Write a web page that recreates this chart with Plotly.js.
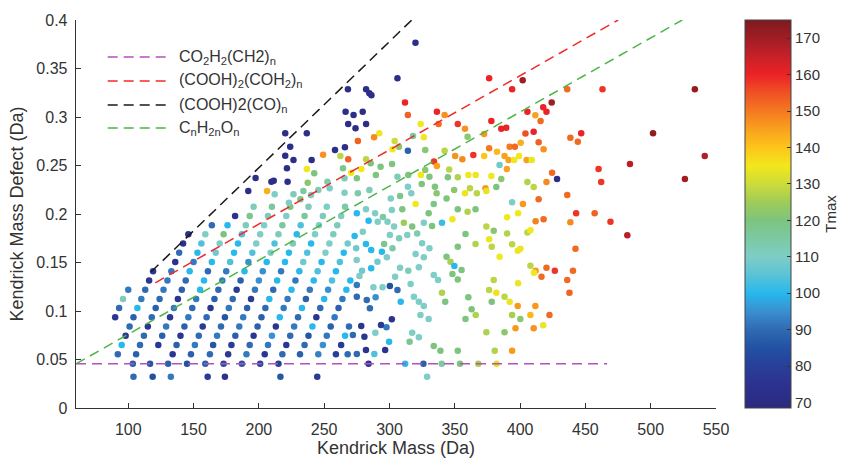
<!DOCTYPE html>
<html><head><meta charset="utf-8">
<script src="https://cdn.plot.ly/plotly-3.0.1.min.js"></script>
<style>html,body{margin:0;padding:0;background:#fff}#chart{width:851px;height:458px}</style>
</head><body><div id="chart"></div>
<script>
// ---------- dense lattice (rows of constant Kendrick mass defect) ----------
const rowKMD = [0.0323, 0.0455, 0.0555, 0.065, 0.0745, 0.084, 0.0935, 0.103, 0.1125, 0.122, 0.1315, 0.141, 0.1505, 0.16, 0.1695, 0.179, 0.1885, 0.198, 0.2075];
const rowKM = [
  [104, 118.7, 132.6, 160.8, 174, 216.5, 244.7, 328.8],
  [103.5, 116.7, 130.5, 145, 159, 173, 187, 201, 215, 284, 312, 326, 340, 354, 368, 382],
  [92, 106, 134, 148, 162.5, 176.5, 190.5, 204.5, 218, 231.5, 245.5, 259, 268],
  [95, 109, 123, 137, 151, 165, 179, 193, 207, 221, 235, 249, 263],
  [98, 112, 126, 140, 154, 168, 182, 196, 210, 224, 238, 252, 266],
  [101, 115, 129, 143, 157, 171, 185, 199, 213, 227, 241, 255, 269],
  [90, 104, 118, 132, 146, 160, 174, 188, 202, 216, 230, 244, 258],
  [93, 107, 121, 135, 149, 163, 177, 191, 205, 219, 233, 247, 261],
  [96, 110, 124, 138, 152, 166, 180, 194, 208, 222, 236, 250, 264],
  [100, 113, 127, 141, 155, 169, 183, 197, 211, 225, 239, 253, 267],
  [116, 130, 144, 158, 172, 186, 200, 214, 228, 242, 256, 270],
  [119, 133, 147, 161, 175, 189, 203, 217, 231, 245, 259],
  [136, 150, 164, 178, 192, 206, 220, 234, 248, 262],
  [139, 153, 167, 181, 195, 209, 223, 237, 251, 265],
  [142, 156, 170, 184, 198, 212, 226, 240, 254, 268],
  [146, 159, 173, 187, 201, 215, 229, 243, 257],
  [164, 176, 190, 204, 218, 232, 246, 260],
  [181.8, 193, 207, 221, 235, 249, 263],
  [196, 210, 224, 238, 252, 266]
];
const rowT = [
  [90, 85, 92, 78, 75, 86, 78, 110],
  [88, 86, 88, 85, 88, 84, 86, 82, 80, 76, 100, 88, 115, 120, 126, 133],
  [90, 88, 76, 88, 90, 78, 92, 76, 90, 88, 93, 80, 90],
  [100, 90, 76, 88, 92, 86, 78, 90, 92, 76, 90, 95, 78],
  [76, 90, 88, 76, 90, 92, 88, 76, 95, 90, 86, 92, 100],
  [90, 76, 92, 88, 78, 90, 92, 88, 76, 92, 100, 88, 90],
  [76, 88, 90, 76, 92, 90, 86, 92, 88, 100, 90, 76, 92],
  [90, 100, 88, 92, 90, 76, 92, 88, 90, 92, 100, 90, 88],
  [112, 92, 90, 76, 92, 88, 90, 78, 100, 92, 88, 100, 92],
  [92, 90, 92, 88, 100, 90, 78, 92, 90, 100, 92, 95, 100],
  [76, 92, 90, 100, 92, 88, 95, 100, 92, 100, 104, 100],
  [76, 92, 100, 90, 92, 100, 95, 92, 100, 104, 100],
  [74, 92, 100, 104, 95, 100, 100, 108, 100, 104],
  [90, 100, 108, 100, 104, 110, 100, 104, 110, 100],
  [74, 104, 110, 100, 110, 104, 112, 100, 110, 108],
  [74, 110, 120, 104, 110, 112, 100, 110, 112],
  [90, 100, 112, 110, 116, 104, 110, 112],
  [74, 118, 112, 110, 116, 112, 110],
  [112, 116, 120, 112, 110, 114]
];

// ---------- teal / green middle region ----------
const midKM = [320.0,333.9,275.0,282.0,289.0,295.0,301.8,309.8,311.0,330.0,352.3,359.8,365.9,348.2,284.0,291.0,298.5,303.5,317.4,326.3,332.6,340.2,358.2,365.9,273.3,279.6,300.3,307.4,313.6,321.2,282.0,295.9,302.3,325.0,330.6,274.5,286.0,294.2,298.0,274.9,290.8,320.0,326.3,343.7,346.7,352.3,349.7,348.2,355.2,352.3,308.1,314.4,322.5,333.9,337.2,340.2,342.7,360.4,362.9,366.0,358.2,279.0,286.0,277.0,304.3,275.0,287.7,294.7,300.3,306.1,316.2,308.6,318.7,322.5,326.3,275.0,282.6,289.4,285.0,323.7,330.0,301.8,297.7,293.5,278.4,289.2,272.0,280.8,299.7,317.4,322.5,333.9,339.0,352.3,315.4,275.0,282.0,288.4,296.7];
const midKMD = [0.2103,0.2103,0.2007,0.2048,0.2007,0.197,0.2041,0.2048,0.191,0.2007,0.2048,0.2024,0.2048,0.1945,0.193,0.192,0.192,0.187,0.187,0.191,0.1876,0.191,0.1794,0.169,0.1773,0.1818,0.1784,0.175,0.1784,0.18,0.169,0.169,0.1646,0.1698,0.1646,0.1646,0.163,0.1612,0.1553,0.1526,0.1509,0.1588,0.1553,0.156,0.1509,0.1663,0.1464,0.1381,0.1423,0.1326,0.1447,0.1416,0.145,0.1371,0.132,0.1189,0.1096,0.1141,0.1017,0.0959,0.0918,0.1416,0.144,0.1361,0.1354,0.1268,0.1244,0.1244,0.1258,0.1216,0.1278,0.1096,0.1148,0.1096,0.1052,0.1148,0.1113,0.1141,0.1028,0.0959,0.0918,0.0914,0.0832,0.0856,0.0845,0.0777,0.0753,0.0735,0.0684,0.0777,0.0729,0.0639,0.0591,0.0591,0.0684,0.0557,0.0598,0.0557,0.0598];
const midT = [135,118,100,110,110,115,110,120,125,120,120,127,120,135,100,110,110,110,120,110,120,102,120,127,100,110,110,112,110,113,100,118,114,110,110,108,100,100,110,110,108,110,110,120,126,120,100,120,120,120,110,112,110,110,110,127,120,120,120,127,120,108,100,110,110,92,110,110,85,90,110,100,110,110,110,90,90,95,90,110,110,75,92,78,76,110,90,76,100,110,110,120,120,120,118,90,75,104,75];

// ---------- upper band (between the red and black lines) ----------
const upKM = [319.9,306.1,268.2,282.1,284.6,286.2,311.9,266.4,272.5,279.5,314.1,336.3,342.2,268.4,274.0,282.1,323.9,337.6,352.3,357.8,292.2,288.2,318.0,326.3,359.8,372.5,275.8,304.0,307.3,302.3,258.3,265.9,314.1,327.4,342.2,350.3,355.8,364.2,372.5,262.4,268.4,282.1,249.2,334.1,336.3,345.7,327.4,293.2,302.0,285.6,264.4,278.4,270.7,252.5,265.6,275.0,289.6,306.1,314.4,324.0,330.6,344.7,352.3,360.4,366.0,254.2,265.6,275.8,284.6,301.0,308.1,314.1,316.7,324.7,334.8,336.1,343.7,349.5,357.8,361.6,366.9,373.5,220.2,224.0,220.2,226.5,222.0,236.7,240.4,236.7,242.4,221.5,197.5,209.6,211.4,237.4,191.9,206.3,212.1,226.5,234.1,239.9,245.5,231.8,223.0];
const upKMD = [0.3766,0.3399,0.3285,0.3285,0.3244,0.3223,0.315,0.3055,0.302,0.3055,0.302,0.3055,0.302,0.2928,0.2883,0.2928,0.2928,0.2928,0.2928,0.288,0.2832,0.279,0.2804,0.279,0.2797,0.2825,0.2753,0.2753,0.2694,0.2667,0.266,0.2687,0.2653,0.266,0.2653,0.2598,0.2564,0.2608,0.2598,0.2598,0.2564,0.2564,0.261,0.254,0.2495,0.246,0.2454,0.2488,0.2515,0.2522,0.2471,0.2464,0.2426,0.2333,0.2368,0.2368,0.2402,0.2385,0.2402,0.2402,0.2385,0.2378,0.2378,0.2402,0.2402,0.2265,0.222,0.2213,0.2247,0.2161,0.2186,0.2282,0.2213,0.2309,0.2282,0.2213,0.2161,0.2247,0.2213,0.2265,0.2213,0.2265,0.2832,0.2694,0.26,0.2557,0.2333,0.2832,0.2557,0.2464,0.2419,0.2471,0.237,0.2333,0.2344,0.2323,0.2237,0.2237,0.2203,0.2203,0.2237,0.2196,0.2247,0.2151,0.2117];
const upT = [72,72,72,72,72,72,160,72,72,72,153,160,147,72,72,72,135,152,158,147,135,148,115,135,122,146,153,130,122,135,72,72,88,122,128,147,148,158,140,128,153,128,147,158,145,128,122,120,120,120,118,135,135,113,112,120,120,112,120,135,120,120,127,135,134,110,110,114,112,110,118,110,110,120,120,122,120,122,134,128,128,146,72,72,72,72,72,72,72,135,120,72,72,72,72,122,72,143,110,112,115,110,112,118,110];

// ---------- high-mass (yellow / orange / red) region ----------
const hiKM = [376.3,402.0,393.9,436.1,463.1,533.8,424.2,417.7,420.2,405.6,411.7,415.7,378.0,385.6,389.4,404.1,410.4,438.5,446.8,444.2,501.8,414.2,376.3,392.0,396.0,400.5,382.3,388.1,418.0,541.4,391.2,395.5,399.2,405.0,408.9,384.3,389.9,378.0,385.6,424.5,428.3,460.1,484.1,462.1,526.2,420.2,405.6,410.4,381.8,374.2,436.1,414.2,393.9,402.2,398.5,390.1,442.9,457.1,469.2,438.5,418.0,411.9,482.1,374.2,379.8,390.1,405.6,407.9,376.3,378.3,393.9,398.2,400.2,384.3,442.4,407.9,411.9,410.6,420.2,426.6,416.4,440.5,436.1,437.8,379.8,398.5,376.3,381.8,388.1,392.0,378.3,398.2,411.7,393.9,400.2,407.9,422.5,417.7,396.5,410.4,374.2,388.1,380.6,393.9];
const hiKMD = [0.340,0.338,0.3285,0.3285,0.3285,0.3285,0.315,0.310,0.3055,0.3055,0.3017,0.296,0.296,0.288,0.289,0.283,0.2849,0.2787,0.2832,0.2746,0.2832,0.274,0.2677,0.2694,0.2694,0.2735,0.2643,0.2598,0.2667,0.2598,0.2557,0.2557,0.2598,0.2557,0.2557,0.2505,0.2464,0.2392,0.236,0.2426,0.236,0.2464,0.2515,0.233,0.236,0.233,0.233,0.2278,0.2278,0.2237,0.2196,0.2151,0.2120,0.2103,0.2007,0.1966,0.2007,0.2007,0.1921,0.1914,0.1945,0.1924,0.1780,0.187,0.1828,0.18,0.181,0.1832,0.1739,0.1663,0.1687,0.1622,0.1643,0.156,0.1643,0.1467,0.1416,0.1395,0.1447,0.1416,0.1354,0.1416,0.1320,0.1189,0.132,0.1285,0.1216,0.1189,0.1148,0.1096,0.1096,0.1052,0.1052,0.0959,0.0918,0.0959,0.0959,0.0852,0.0821,0.0821,0.078,0.078,0.0591,0.0591];
const hiT = [160,170,160,152,158,172,170,160,160,160,145,152,160,160,160,155,160,152,160,152,172,153,150,150,152,143,142,145,147,168,145,135,135,145,134,108,145,135,122,152,72,158,167,158,170,148,127,128,120,133,152,152,110,146,135,135,158,153,158,148,152,149,167,128,122,127,128,135,134,128,128,134,134,135,152,128,146,135,152,158,152,152,152,153,128,134,128,136,128,134,120,146,146,126,122,142,152,134,146,147,127,122,127,146];

// ---------- reference series lines ----------
const seriesNames = ['CO<sub>2</sub>H<sub>2</sub>(CH2)<sub>n</sub>', '(COOH)<sub>2</sub>(COH<sub>2</sub>)<sub>n</sub>', '(COOH)2(CO)<sub>n</sub>', 'C<sub>n</sub>H<sub>2n</sub>O<sub>n</sub>'];
const seriesKM = [[60, 466.6], [120.7, 475.1], [117.6, 317.1], [60, 524.2]];
const seriesKMD = [[0.0455, 0.0455], [0.129, 0.400], [0.1405, 0.400], [0.0455, 0.400]];
const seriesColors = ['#b452b6', '#ee2b2b', '#1a1a1a', '#4db548'];

const xTicks = [100, 150, 200, 250, 300, 350, 400, 450, 500, 550];
const yTicks = [0, 0.05, 0.1, 0.15, 0.2, 0.25, 0.3, 0.35, 0.4];
const yTickText = ['0', '0.05', '0.1', '0.15', '0.2', '0.25', '0.3', '0.35', '0.4'];
const cTicks = [70, 80, 90, 100, 110, 120, 130, 140, 150, 160, 170];

// colormap stops (Tmax value, colour)
const cmapVals = [68.5, 75, 80, 85, 90, 95, 100, 105, 110, 115, 120, 125, 130, 135, 140, 145, 150, 155, 160, 165, 170, 175];
const cmapCols = ['#2b2b7f','#2c3290','#283f98','#2251a3','#2f6ab3','#3a8fd0','#27b8ec','#5ac3d6','#7ecdc6','#7cc9a3','#7dc47e','#9fcb58','#cddc3a','#f2e71c','#fcc51b','#f9a11e','#f47920','#ef5125','#eb2226','#c72128','#a11d25','#7d1a1f'];
const cmin = 68.5, cmax = 175;
const colorscale = cmapVals.map((v, i) => [(v - cmin) / (cmax - cmin), cmapCols[i]]);

// assemble
let allKM = [], allKMD = [], allT = [];
rowKMD.forEach((y, r) => {
  rowKM[r].forEach((x, i) => { allKM.push(x); allKMD.push(y); allT.push(rowT[r][i]); });
});
allKM = allKM.concat(midKM, upKM, hiKM);
allKMD = allKMD.concat(midKMD, upKMD, hiKMD);
allT = allT.concat(midT, upT, hiT);

const DASH = '10px,6px';
const traces = [{
  type: 'scatter', mode: 'markers', x: allKM, y: allKMD, showlegend: false, hoverinfo: 'x+y',
  marker: {
    size: 6.5, color: allT, colorscale: colorscale, cmin: cmin, cmax: cmax, line: {width: 0},
    showscale: true,
    colorbar: {
      x: 1.045, xanchor: 'left', y: 1, yanchor: 'top', len: 1, lenmode: 'fraction',
      thickness: 46, thicknessmode: 'pixels', xpad: 0, ypad: 0,
      outlinewidth: 1, outlinecolor: '#444',
      tickmode: 'array', tickvals: cTicks, ticks: 'inside', ticklen: 4, tickcolor: '#333',
      tickfont: {size: 15, color: '#333'},
      title: {text: 'Tmax', side: 'right', font: {size: 15, color: '#333'}}
    }
  }
}];
seriesNames.forEach((n, i) => {
  traces.push({
    type: 'scatter', mode: 'lines', name: n, x: seriesKM[i], y: seriesKMD[i], showlegend: false,
    line: {color: seriesColors[i], width: 1.5, dash: DASH}, hoverinfo: 'skip'
  });
});

// legend drawn as key lines + labels (paper coordinates)
const legRowY = [0.9046, 0.8428, 0.7809, 0.7216];
const shapes = [], annotations = [];
seriesNames.forEach((n, i) => {
  shapes.push({type: 'line', xref: 'paper', yref: 'paper', x0: 0.0495, x1: 0.1424, y0: legRowY[i], y1: legRowY[i],
               line: {color: seriesColors[i], width: 1.5, dash: DASH}});
  annotations.push({xref: 'paper', yref: 'paper', x: 0.1579, y: legRowY[i], xanchor: 'left', yanchor: 'middle',
                    text: n, showarrow: false, font: {size: 16, color: '#333'}});
});

const layout = {
  width: 851, height: 458,
  margin: {l: 76, r: 129, t: 20, b: 50},
  paper_bgcolor: '#fff', plot_bgcolor: '#fff',
  font: {family: 'Liberation Sans, Arial, sans-serif', color: '#333', size: 16},
  showlegend: false,
  shapes: shapes, annotations: annotations,
  xaxis: {
    range: [60, 550], tickmode: 'array', tickvals: xTicks, ticks: 'inside', ticklen: 5,
    tickcolor: '#333', showline: true, linecolor: '#333', linewidth: 1.3, mirror: false,
    showgrid: false, zeroline: false, tickfont: {size: 16, color: '#333'}, ticklabelstandoff: 6,
    title: {text: 'Kendrick Mass (Da)', font: {size: 18, color: '#333'}, standoff: 8}
  },
  yaxis: {
    range: [0, 0.4], tickmode: 'array', tickvals: yTicks, ticktext: yTickText, ticks: 'inside', ticklen: 5,
    tickcolor: '#333', showline: true, linecolor: '#333', linewidth: 1.3, mirror: false,
    showgrid: false, zeroline: false, tickfont: {size: 16, color: '#333'}, ticklabelstandoff: 4,
    title: {text: 'Kendrick Mass Defect (Da)', font: {size: 18, color: '#333'}, standoff: 8}
  }
};

Plotly.newPlot('chart', traces, layout, {displayModeBar: false, staticPlot: true});
</script></body></html>
